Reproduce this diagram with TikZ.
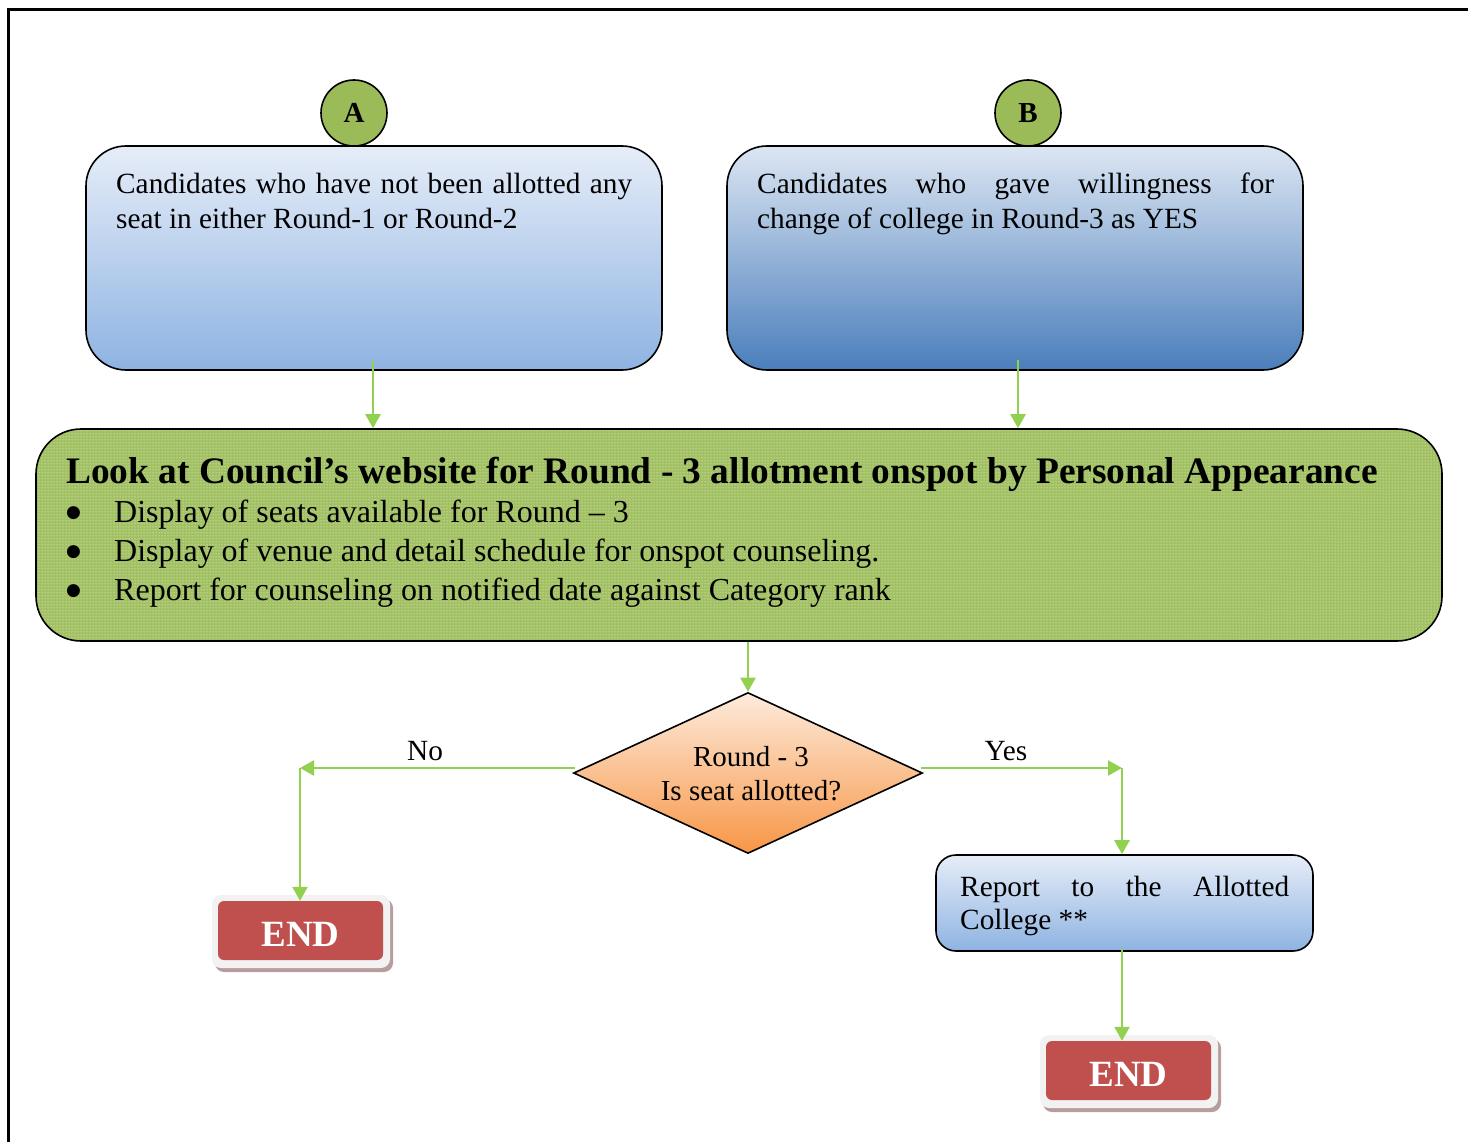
\documentclass[tikz,border=0pt]{standalone}
\usepackage{fontspec}
\setmainfont{Liberation Serif}
\newfontfamily\symfont{DejaVu Sans}
\usetikzlibrary{shapes.geometric,arrows.meta,patterns}
\definecolor{arrowgreen}{HTML}{92D050}
\definecolor{circgreen}{HTML}{9BBB59}
\definecolor{boxgreen}{HTML}{A1C062}
\definecolor{endred}{HTML}{C0504D}
\definecolor{lightblueT}{HTML}{E6EDF8}
\definecolor{lightblueB}{HTML}{8EB3E2}
\definecolor{darkblueT}{HTML}{DCE6F3}
\definecolor{darkblueB}{HTML}{4A7EBB}
\definecolor{peachT}{HTML}{FDEBDC}
\definecolor{peachB}{HTML}{F79646}
\definecolor{shadowred}{HTML}{B99C9C}
\hyphenpenalty=10000
\exhyphenpenalty=10000
\newcommand{\bigbul}{\makebox[48pt][l]{\raisebox{4.5pt}{\symfont\fontsize{17}{17}\selectfont ●}}}
\newcommand{\finishtxt}{\raisebox{-15.5pt}[0pt][0pt]{END}}
\begin{document}
\begin{tikzpicture}[x=1pt,y=-1pt,
  bluebox/.style={draw=black, line width=1.6, rounded corners=40, inner sep=0,
     minimum width=576, minimum height=224},
  letter/.style={circle, draw=black, line width=1.6, fill=circgreen, minimum size=66,
     inner sep=0, font=\fontsize{29}{29}\selectfont\bfseries},
  body/.style={inner sep=0, font=\fontsize{29.3}{35}\selectfont},
  bullet/.style={inner sep=0, anchor=base west, font=\fontsize{32}{39}\selectfont},
  conn/.style={draw=arrowgreen, line width=2.6, -{Triangle[length=14,width=15]}},
  endouter/.style={draw=none, fill=black!5, rounded corners=9, minimum width=178, minimum height=73, inner sep=0},
  endshadow/.style={draw=none, fill=shadowred, rounded corners=9, minimum width=178, minimum height=73, inner sep=0},
  endinner/.style={draw=none, fill=endred, rounded corners=6, minimum width=165, minimum height=59, inner sep=0,
     text=white, font=\fontsize{37}{37}\selectfont\bfseries},
]
\useasboundingbox (0,0) rectangle (1468,1142);
\draw[line width=3] (8,1142) -- (8,10) -- (1468,10);

% top boxes
\node[bluebox, top color=lightblueT, bottom color=lightblueB] (boxA) at (374,258) {};
\node[bluebox, top color=darkblueT, bottom color=darkblueB] (boxB) at (1015,258) {};
\node[body, anchor=north west, text width=516, align=justify] (txtA) at (116,173)
  {Candidates who have not been allotted any\linebreak seat in either Round-1 or Round-2};
\node[body, anchor=north west, text width=517, align=justify] (txtB) at (757,173)
  {Candidates who gave willingness for\linebreak change of college in Round-3 as YES};
\node[letter] (cA) at (354,113) {A};
\node[letter] (cB) at (1028,113) {B};

% green box
\node[draw=black, line width=1.6, rounded corners=45, inner sep=0, minimum width=1406, minimum height=212,
      preaction={fill=boxgreen}, pattern=dots, pattern color=white] (green) at (739,535) {};
\node[inner sep=0, anchor=base west, font=\fontsize{37.4}{37.4}\selectfont\bfseries] (head) at (66,483)
  {Look at Council’s website for Round - 3 allotment onspot by Personal Appearance};
\node[bullet] (b1) at (66,522)
  {\bigbul Display of seats available for Round – 3};
\node[bullet] (b2) at (66,561)
  {\bigbul Display of venue and detail schedule for onspot counseling.};
\node[bullet] (b3) at (66,600)
  {\bigbul Report for counseling on notified date against Category rank};

% arrows top
\coordinate (aStart) at (373,360);
\coordinate (bStart) at (1018,360);
\draw[conn] (aStart) -- (aStart |- green.north);
\draw[conn] (bStart) -- (bStart |- green.north);

% diamond
\node[diamond, aspect=2.17, draw=black, line width=1.6, inner sep=0, minimum width=349, minimum height=161,
      top color=peachT, bottom color=peachB] (dia) at (748,773) {};
\node[inner sep=0, anchor=north, align=center, font=\fontsize{29}{34}\selectfont] (diaTxt) at (751,746)
  {Round - 3\\Is seat allotted?};
\draw[conn] (dia.north |- green.south) -- (dia.north);

% No branch
\coordinate (noStart) at (575,768);
\coordinate (noCorner) at (300,768);
\draw[conn] (noStart) -- (noCorner);
\node[body, anchor=base] (noLbl) at (425,760) {No};

% Yes branch
\coordinate (yesStart) at (921,768);
\coordinate (yesCorner) at (1122,768);
\draw[conn] (yesStart) -- (yesCorner);
\node[body, anchor=base] (yesLbl) at (1006,760) {Yes};

% report box
\node[draw=black, line width=1.6, rounded corners=20, inner sep=0, minimum width=377, minimum height=96,
      top color=lightblueT, bottom color=lightblueB] (report) at (1124.5,903) {};
\node[body, anchor=north west, text width=329, align=justify, font=\fontsize{29.3}{33}\selectfont] (txtR) at (960,876)
  {Report to the Allotted\linebreak College **};

% END boxes
\node[endshadow] (shL) at (304,935.5) {};
\node[endouter] (outL) at (301,931.5) {};
\node[endinner] (endL) at (300.5,930.5) {\finishtxt};
\node[endshadow] (shR) at (1132,1075.5) {};
\node[endouter] (outR) at (1129,1071.5) {};
\node[endinner] (endR) at (1128.5,1070.5) {\finishtxt};

\draw[conn] (noCorner) -- (noCorner |- endL.north);
\draw[conn] (yesCorner) -- (yesCorner |- report.north);
\coordinate (rStart) at (1122,948);
\draw[conn] (rStart) -- (rStart |- endR.north);
\end{tikzpicture}
\end{document}
